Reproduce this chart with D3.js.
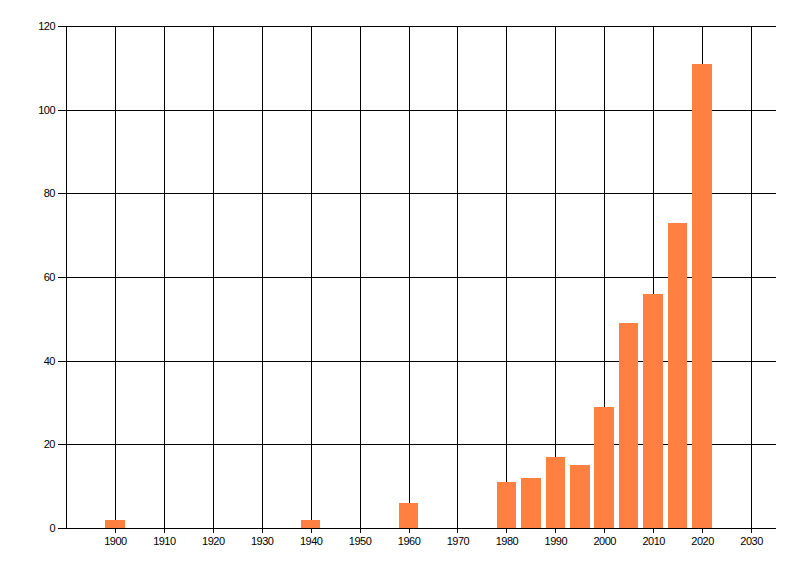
<!DOCTYPE html>
<html>
<head>
<meta charset="utf-8">
<script src="https://cdn.jsdelivr.net/npm/d3@7"></script>
<style>
  body { margin: 0; background: #fff; }
  svg text { font-family: "Liberation Sans", Arial, sans-serif; font-size: 11px; fill: #000; letter-spacing: -0.5px; }
</style>
</head>
<body>
<div id="graphic"></div>
<script>
// data
var years = [1900, 1940, 1960, 1980, 1985, 1990, 1995, 2000, 2005, 2010, 2015, 2020];
var counts = [2, 2, 6, 11, 12, 17, 15, 29, 49, 56, 73, 111];
var xTicks = [1900, 1910, 1920, 1930, 1940, 1950, 1960, 1970, 1980, 1990, 2000, 2010, 2020, 2030];
var yTicks = [0, 20, 40, 60, 80, 100, 120];

var barColor = "#FF8040";

var width = 800, height = 576;
var margin = {top: 26, left: 66, right: 24.5, bottom: 48};

var svg = d3.select("#graphic").append("svg")
    .attr("width", width)
    .attr("height", height);

var x = d3.scaleLinear()
    .domain([1890, 2035])
    .range([margin.left, width - margin.right]);

var y = d3.scaleLinear()
    .domain([0, 120])
    .range([height - margin.bottom, margin.top]);

var barW = x(1904) - x(1900);

//horizontal gridlines + y axis ticks
svg.append("g")
    .attr("transform", "translate(" + margin.left + ",0)")
    .call(d3.axisLeft(y).tickValues(yTicks).tickSize(8).tickPadding(3).tickFormat(d3.format("d")))
    .call(function(g) {
        g.select(".domain").remove();
        g.selectAll(".tick line").attr("stroke", "#000").attr("shape-rendering", "crispEdges");
        g.selectAll(".tick").append("line")
            .attr("x1", 0)
            .attr("x2", width - margin.right - margin.left)
            .attr("stroke", "#000")
            .attr("shape-rendering", "crispEdges");
        g.selectAll("text").attr("font-size", null).attr("font-family", null);
    });

//vertical gridlines + x axis ticks
svg.append("g")
    .attr("transform", "translate(0," + (height - margin.bottom) + ")")
    .call(d3.axisBottom(x).tickValues(xTicks).tickSize(5).tickPadding(4).tickFormat(d3.format("d")))
    .call(function(g) {
        g.select(".domain").remove();
        g.selectAll(".tick line").attr("stroke", "#000").attr("shape-rendering", "crispEdges");
        g.selectAll(".tick").append("line")
            .attr("y1", 0)
            .attr("y2", margin.top - (height - margin.bottom))
            .attr("stroke", "#000")
            .attr("shape-rendering", "crispEdges");
        g.selectAll("text").attr("font-size", null).attr("font-family", null);
    });

//left border line
svg.append("line")
    .attr("x1", x(1890)).attr("x2", x(1890))
    .attr("y1", y(120)).attr("y2", y(0))
    .attr("stroke", "#000")
    .attr("shape-rendering", "crispEdges");

//bars
svg.append("g").selectAll("rect")
    .data(years)
    .enter().append("rect")
        .attr("x", function(d) { return x(d) - barW / 2; })
        .attr("y", function(d, i) { return y(counts[i]); })
        .attr("width", barW)
        .attr("height", function(d, i) { return y(0) - y(counts[i]); })
        .attr("fill", barColor)
        .attr("shape-rendering", "crispEdges");

//x axis line on top of bars
svg.append("line")
    .attr("x1", x(1890) - 8).attr("x2", x(2035))
    .attr("y1", y(0)).attr("y2", y(0))
    .attr("stroke", "#000")
    .attr("shape-rendering", "crispEdges");
</script>
</body>
</html>
